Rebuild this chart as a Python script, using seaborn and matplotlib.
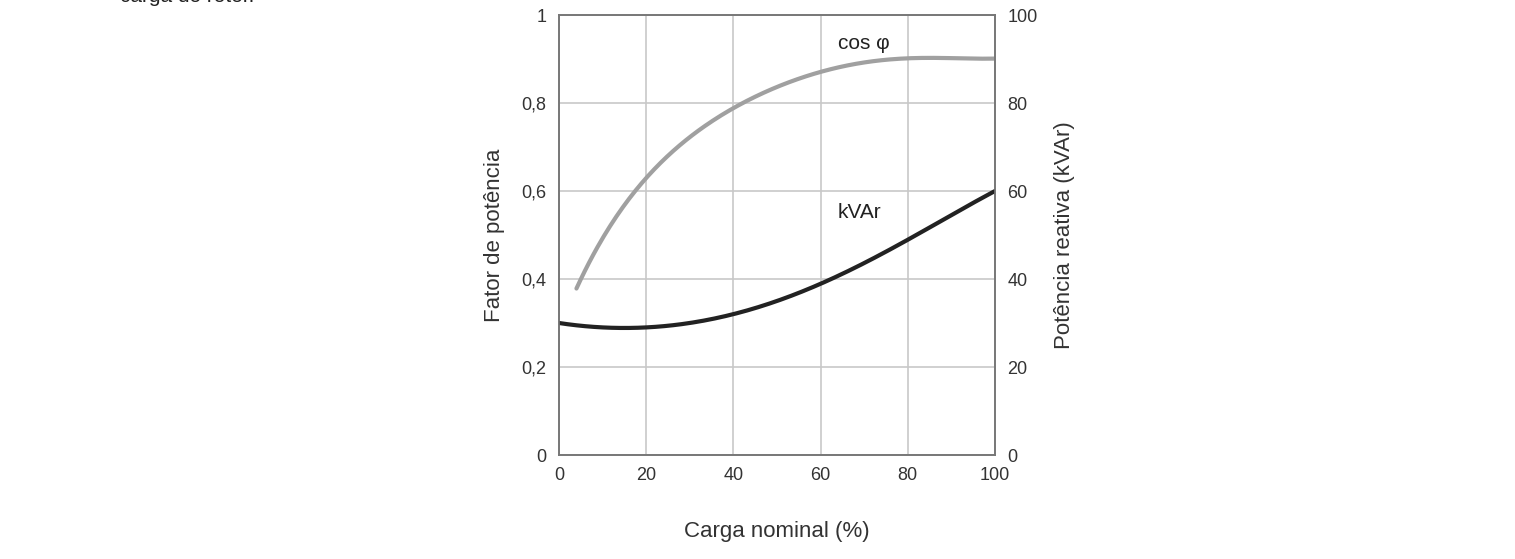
import matplotlib
matplotlib.use("Agg")
import matplotlib.pyplot as plt
import seaborn as sns
import numpy as np

sns.set_theme(style="white")
plt.rcParams['font.family'] = ['Liberation Sans', 'DejaVu Sans']

cos_x = [4, 10, 20, 30, 40, 50, 60, 70, 80, 90, 100]
cos_y = [0.375, 0.50, 0.625, 0.72, 0.79, 0.84, 0.87, 0.89, 0.90, 0.905, 0.90]
kvar_x = [0, 10, 20, 30, 40, 50, 60, 70, 80, 90, 100]
kvar_y = [30, 29, 29, 30, 32, 35, 39, 43.5, 49, 54.5, 60]
x_ticks = [0, 20, 40, 60, 80, 100]
left_ticks = [0, 0.2, 0.4, 0.6, 0.8, 1]
left_labels = ["0", "0,2", "0,4", "0,6", "0,8", "1"]
right_ticks = [0, 20, 40, 60, 80, 100]

fig = plt.figure(figsize=(15.15, 5.59), dpi=100)
ax = fig.add_axes([559/1515, 1-455/559, (995-559)/1515, (455-15)/559])
ax2 = ax.twinx()

def smooth(x, y):
    xs = np.linspace(min(x), max(x), 200)
    c = np.polyfit(x, y, 5)
    return xs, np.polyval(c, xs)

xs, ys = smooth(cos_x, cos_y)
sns.lineplot(x=xs, y=ys, ax=ax, color="#a0a0a0", linewidth=3)
xs2, ys2 = smooth(kvar_x, kvar_y)
sns.lineplot(x=xs2, y=ys2, ax=ax2, color="#222222", linewidth=3)

ax.set_xlim(0, 100); ax.set_ylim(0, 1)
ax2.set_ylim(0, 100)
ax.set_xticks(x_ticks)
ax.set_yticks(left_ticks); ax.set_yticklabels(left_labels)
ax2.set_yticks(right_ticks)
ax.grid(True, color="#c8c8c8", linewidth=1.2)
ax.set_axisbelow(True)
ax2.grid(False)
for a in (ax, ax2):
    for s in a.spines.values():
        s.set_color("#777777"); s.set_linewidth(1.2)
    a.tick_params(labelsize=13, colors="#333333", length=0, pad=9)
ax.set_xlabel("Carga nominal (%)", fontsize=16, color="#333333", labelpad=26)
ax.set_ylabel("Fator de potência", fontsize=16, color="#333333", labelpad=12)
ax2.set_ylabel("Potência reativa (kVAr)", fontsize=16, color="#333333", labelpad=12)
ax.text(70, 0.935, "cos φ", fontsize=15, color="#222222", ha="center", va="center")
ax.text(69, 0.55, "kVAr", fontsize=15, color="#222222", ha="center", va="center")
fig.text(120/1515, 1.0 + 3/559, "carga do rotor.", fontsize=15, color="#222222", va="center")

fig.savefig("out.png", dpi=100, facecolor="white")
